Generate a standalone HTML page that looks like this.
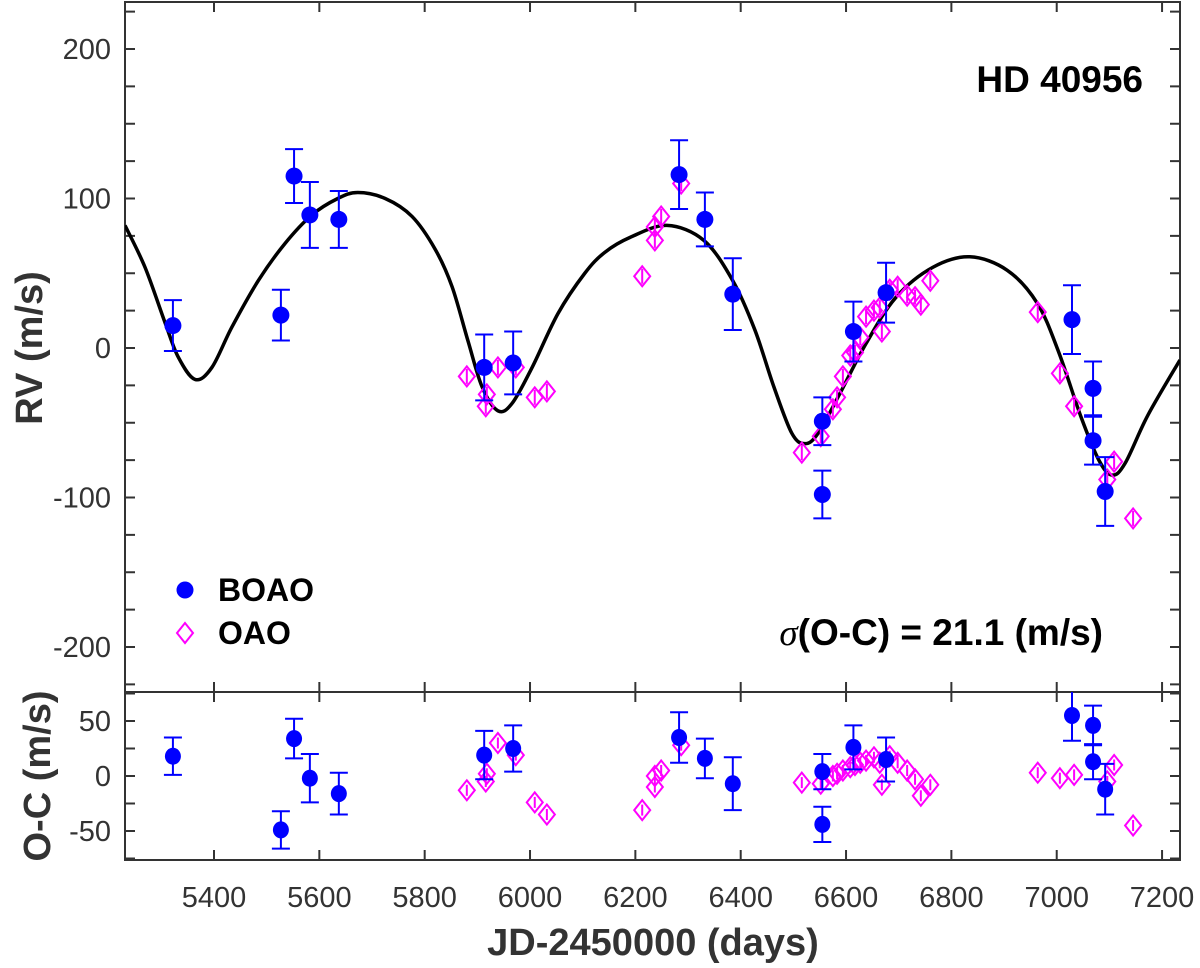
<!DOCTYPE html>
<html><head><meta charset="utf-8"><style>
html,body{margin:0;padding:0;background:#fff;}
svg{display:block;font-family:"Liberation Sans",Arial,sans-serif;}
</style></head><body>
<svg id="chart" width="1200" height="968" viewBox="0 0 1200 968"></svg>
<script>
// ---- data ----
const modelDays=[5231,5269,5307,5332,5364,5396,5434,5484,5535,5586,5635,5673,5725,5776,5820,5852,5882,5909,5939,5966,6004,6053,6104,6142,6190,6260,6330,6385,6427,6463,6497,6522,6547,6589,6638,6695,6765,6835,6906,6963,7004,7046,7080,7105,7130,7173,7234];
const modelRV=[82,54,17,-6,-21,-13,14,45,70,89,100,104,100,88,66,41,5,-26,-42,-37,-13,23,50,64,74,82,72,45,12,-26,-57,-64,-57,-30,3,34,54,61,52,30,-3,-46,-75,-85,-77,-45,-8];
const boaoDays=[5322,5527,5552,5582,5637,5913,5968,6283,6332,6385,6555,6555,6614,6676,7029,7069,7069,7092];
const boaoRV=[15,22,115,89,86,-13,-10,116,86,36,-49,-98,11,37,19,-27,-62,-96];
const boaoErr=[17,17,18,22,19,22,21,23,18,24,16,16,20,20,23,18,16,23];
const boaoOC=[18,-49,34,-2,-16,19,25,35,16,-7,4,-44,26,15,55,46,13,-12];
const oaoDays=[5880,5916,5918,5939,5973,6009,6032,6213,6237,6237,6249,6287,6516,6552,6575,6583,6594,6608,6617,6627,6638,6653,6664,6668,6683,6698,6716,6731,6742,6760,6964,7006,7033,7096,7109,7145];
const oaoRV=[-19,-39,-31,-13,-13,-33,-29,48,72,81,88,110,-70,-59,-41,-33,-19,-5,-3,7,21,25,27,11,39,41,35,34,29,45,24,-17,-39,-88,-76,-114];
const oaoOC=[-13,-5,2,30,19,-24,-35,-31,-10,0,5,28,-6,-7,0,2,5,8,10,12,14,17,12,-8,18,12,5,-3,-18,-8,3,-2,1,-5,10,-45];
const oaoErr=[5,5,5,5,5,5,5,5,5,5,5,5,5,5,5,5,5,5,5,5,5,5,5,5,5,5,5,5,5,5,5,5,5,5,5,5];
const xTicks=[5400,5600,5800,6000,6200,6400,6600,6800,7000,7200];
const yTicksTop=[200,100,0,-100,-200];
const yTicksBot=[50,0,-50];

// ---- layout ----
const L=125,R=1180,T1=2,B1=692,T2=692,B2=860;
const X=d=>214+(d-5400)*0.5267;
const Y1=v=>348-v*1.495;
const Y2=v=>776-v*1.1;
const NS='http://www.w3.org/2000/svg';
const svg=document.getElementById('chart');
function mk(tag,attrs,parent){const e=document.createElementNS(NS,tag);for(const k in attrs)e.setAttribute(k,attrs[k]);(parent||svg).appendChild(e);return e;}

function panel(top,bot,Y,ticks,minorStart,minorEnd,nameP){
  const g=mk('g',{});
  
  
  mk('rect',{x:L,y:top,width:R-L,height:bot-top,fill:'none',stroke:'#333','stroke-width':2},g);
  for(const t of xTicks){
    const x=X(t);
    mk('line',{x1:x,x2:x,y1:bot,y2:bot-10,stroke:'#333','stroke-width':2},g);
    mk('line',{x1:x,x2:x,y1:top,y2:top+10,stroke:'#333','stroke-width':2},g);
  }
  for(let v=minorStart;v>=minorEnd;v-=25){
    const y=Y(v);
    mk('line',{x1:L,x2:L+10,y1:y,y2:y,stroke:'#333','stroke-width':2},g);
    mk('line',{x1:R,x2:R-10,y1:y,y2:y,stroke:'#333','stroke-width':2},g);
  }
  for(const t of ticks){
    const tx=mk('text',{x:111,y:Y(t)+10,'text-anchor':'end','font-size':29,fill:'#333'},g);
    tx.textContent=t;
    
    
  }
}
panel(T1,B1,Y1,yTicksTop,225,-225,'rv');
panel(T2,B2,Y2,yTicksBot,75,-75,'oc');

for(const t of xTicks){
  const tx=mk('text',{x:X(t),y:907,'text-anchor':'middle','font-size':29,fill:'#333'});
  tx.textContent=t;
  
  
}

// model curve (Catmull-Rom)
const clipT=mk('clipPath',{id:'c1'});mk('rect',{x:L,y:T1,width:R-L,height:B1-T1},clipT);
const pts=modelDays.map((d,i)=>[X(d),Y1(modelRV[i])]);
let dstr='M'+pts[0][0]+','+pts[0][1];
for(let i=0;i<pts.length-1;i++){
  const p0=pts[Math.max(0,i-1)],p1=pts[i],p2=pts[i+1],p3=pts[Math.min(pts.length-1,i+2)];
  const c1=[p1[0]+(p2[0]-p0[0])/6,p1[1]+(p2[1]-p0[1])/6];
  const c2=[p2[0]-(p3[0]-p1[0])/6,p2[1]-(p3[1]-p1[1])/6];
  dstr+=` C${c1[0]},${c1[1]} ${c2[0]},${c2[1]} ${p2[0]},${p2[1]}`;
}
const curve=mk('path',{d:dstr,fill:'none',stroke:'#000','stroke-width':3.5,'clip-path':'url(#c1)'});



function errbar(g,x,y1,y2,col,cap){
  mk('line',{x1:x,x2:x,y1:y1,y2:y2,stroke:col,'stroke-width':2},g);
  mk('line',{x1:x-cap,x2:x+cap,y1:y1,y2:y1,stroke:col,'stroke-width':2},g);
  mk('line',{x1:x-cap,x2:x+cap,y1:y2,y2:y2,stroke:col,'stroke-width':2},g);
}
function diamond(g,x,y){
  mk('polygon',{points:`${x},${y-10} ${x+8},${y} ${x},${y+10} ${x-8},${y}`,fill:'none',stroke:'#ff00ff','stroke-width':2},g);
}
// OAO top
const gOT=mk('g',{});


oaoDays.forEach((d,i)=>{const x=X(d),y=Y1(oaoRV[i]);
  mk('line',{x1:x,x2:x,y1:Y1(oaoRV[i]+oaoErr[i]),y2:Y1(oaoRV[i]-oaoErr[i]),stroke:'#ff00ff','stroke-width':2},gOT);
  diamond(gOT,x,y);});
// BOAO top
const gBT=mk('g',{});


boaoDays.forEach((d,i)=>{const x=X(d);
  errbar(gBT,x,Y1(boaoRV[i]+boaoErr[i]),Y1(boaoRV[i]-boaoErr[i]),'#0000ff',9);
  mk('circle',{cx:x,cy:Y1(boaoRV[i]),r:8.5,fill:'#0000ff'},gBT);});
// bottom
const clipB=mk('clipPath',{id:'c2'});mk('rect',{x:L,y:T2,width:R-L,height:B2-T2},clipB);
const gOB=mk('g',{'clip-path':'url(#c2)'});


oaoDays.forEach((d,i)=>{const x=X(d),y=Y2(oaoOC[i]);
  mk('line',{x1:x,x2:x,y1:Y2(oaoOC[i]+oaoErr[i]),y2:Y2(oaoOC[i]-oaoErr[i]),stroke:'#ff00ff','stroke-width':2},gOB);
  diamond(gOB,x,y);});
const gBB=mk('g',{'clip-path':'url(#c2)'});


boaoDays.forEach((d,i)=>{const x=X(d);
  errbar(gBB,x,Y2(boaoOC[i]+boaoErr[i]),Y2(boaoOC[i]-boaoErr[i]),'#0000ff',9);
  mk('ellipse',{cx:x,cy:Y2(boaoOC[i]),rx:8,ry:8.5,fill:'#0000ff'},gBB);});
</script>
<div style="position:absolute;left:0;top:0;width:1200px;height:968px;pointer-events:none">
<svg width="1200" height="968" style="position:absolute;left:0;top:0;font-family:'Liberation Sans',Arial,sans-serif">
  <text x="1143" y="92" text-anchor="end" font-size="37" font-weight="bold" fill="#000">HD 40956</text>
  <g>
    <circle cx="185" cy="590" r="8.5" fill="#0000ff"/>
    <text x="218" y="601" font-size="32" font-weight="bold" fill="#000">BOAO</text>
    <polygon points="185,623 193,633 185,643 177,633" fill="none" stroke="#ff00ff" stroke-width="2"/>
    <text x="218" y="644" font-size="32" font-weight="bold" fill="#000">OAO</text>
  </g>
  <text x="1103" y="645" text-anchor="end" font-size="37" font-weight="bold" fill="#000"><tspan font-style="italic" font-weight="normal" font-family="'Liberation Serif',serif">σ</tspan>(O-C) = 21.1 (m/s)</text>
  <text transform="translate(42,348) rotate(-90)" text-anchor="middle" font-size="38" font-weight="bold" fill="#333">RV (m/s)</text>
  <text transform="translate(50,776) rotate(-90)" text-anchor="middle" font-size="38" font-weight="bold" fill="#333">O-C (m/s)</text>
  <text x="653" y="955" text-anchor="middle" font-size="38" font-weight="bold" fill="#333">JD-2450000 (days)</text>
</svg>
</div>
</body></html>
